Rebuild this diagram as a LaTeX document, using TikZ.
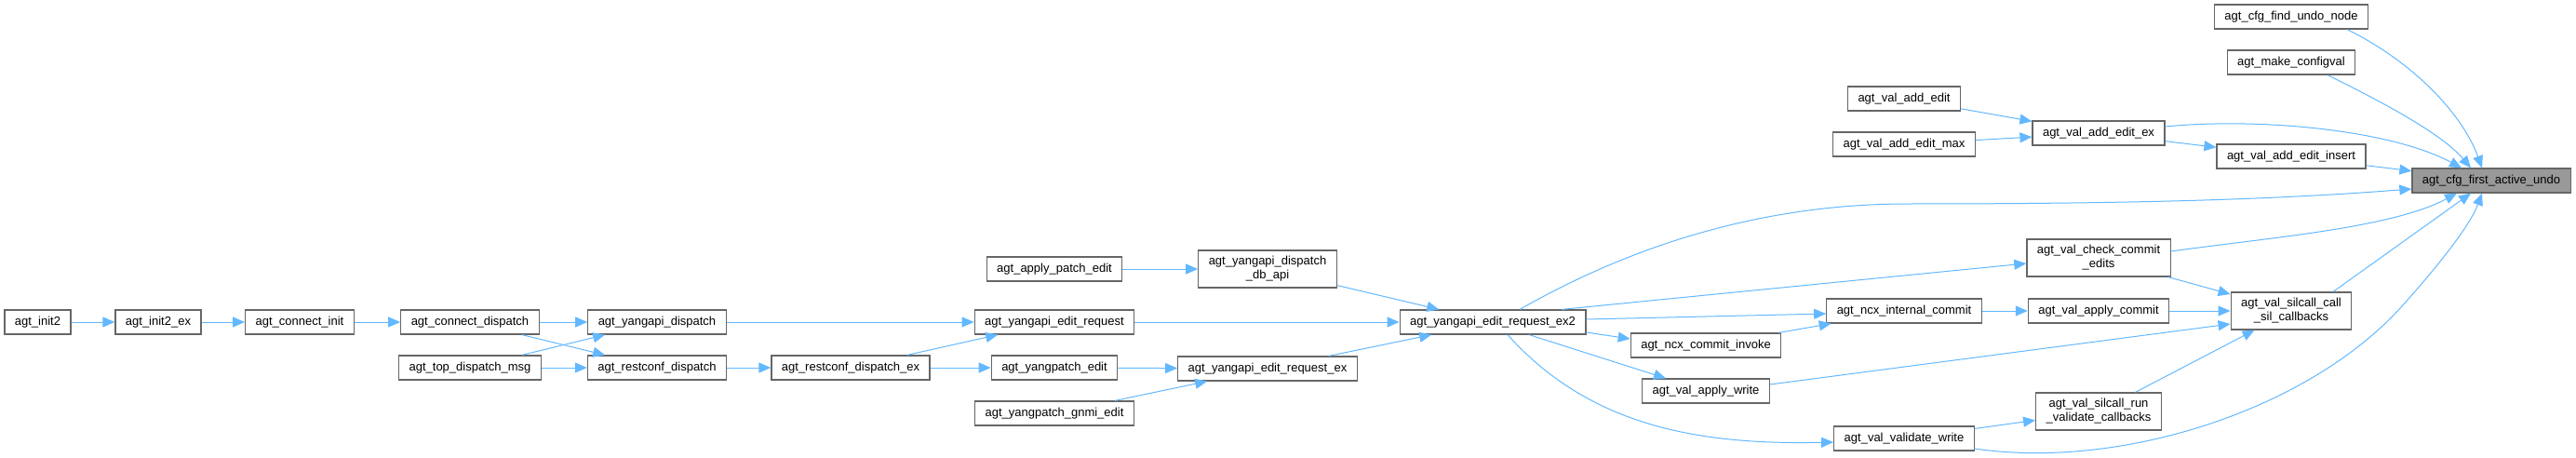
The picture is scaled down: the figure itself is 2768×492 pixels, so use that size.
\documentclass[tikz,border=0pt]{standalone}
\usepackage{fontspec}
\setmainfont{Liberation Sans}
\usetikzlibrary{arrows.meta}
\definecolor{edgeblue}{HTML}{63B8FF}
\definecolor{boxgray}{HTML}{666666}
\definecolor{maingray}{HTML}{999999}

\begin{document}
\begin{tikzpicture}[x=1pt,y=-1pt,
	fn/.style={draw=boxgray,line width=1.2pt,fill=white,font=\fontsize{13}{15}\selectfont,align=center,inner xsep=11pt,inner ysep=6.5pt,minimum height=26pt},
	call/.style={draw=edgeblue,line width=1pt,-{Triangle[length=13pt,width=11pt]}}]
						\useasboundingbox (0,0) rectangle (2768,492);
						\node[fn] (init2) at (40.5,346) {agt\_init2};
						\node[fn] (init2ex) at (170,346) {agt\_init2\_ex};
						\node[fn] (cinit) at (322,346) {agt\_connect\_init};
						\node[fn] (cdisp) at (505,346) {agt\_connect\_dispatch};
						\node[fn] (topmsg) at (505,395) {agt\_top\_dispatch\_msg};
						\node[fn] (ydisp) at (706,346) {agt\_yangapi\_dispatch};
						\node[fn] (rdisp) at (706,395) {agt\_restconf\_dispatch};
						\node[fn] (rdispex) at (914,395) {agt\_restconf\_dispatch\_ex};
						\node[fn] (patch) at (1133,289) {agt\_apply\_patch\_edit};
						\node[fn] (yreq) at (1133,346) {agt\_yangapi\_edit\_request};
						\node[fn] (ypedit) at (1133,395) {agt\_yangpatch\_edit};
						\node[fn] (gnmi) at (1133,444) {agt\_yangpatch\_gnmi\_edit};
						\node[fn] (dbapi) at (1362,289) {agt\_yangapi\_dispatch\\\_db\_api};
						\node[fn] (reqex) at (1362,396) {agt\_yangapi\_edit\_request\_ex};
						\node[fn] (reqex2) at (1604,346) {agt\_yangapi\_edit\_request\_ex2};
						\node[fn] (cinvoke) at (1833,371) {agt\_ncx\_commit\_invoke};
						\node[fn] (awrite) at (1833,420) {agt\_val\_apply\_write};
						\node[fn] (addedit) at (2046,106) {agt\_val\_add\_edit};
						\node[fn] (addmax) at (2046,155) {agt\_val\_add\_edit\_max};
						\node[fn] (icommit) at (2046,334) {agt\_ncx\_internal\_commit};
						\node[fn] (vwrite) at (2046,471) {agt\_val\_validate\_write};
						\node[fn] (addex) at (2255,143) {agt\_val\_add\_edit\_ex};
						\node[fn] (check) at (2255,277) {agt\_val\_check\_commit\\\_edits};
						\node[fn] (acommit) at (2255,334) {agt\_val\_apply\_commit};
						\node[fn] (runval) at (2255,442) {agt\_val\_silcall\_run\\\_validate\_callbacks};
						\node[fn] (findundo) at (2462,18) {agt\_cfg\_find\_undo\_node};
						\node[fn] (mkcfg) at (2462,67) {agt\_make\_configval};
						\node[fn] (insert) at (2462,168) {agt\_val\_add\_edit\_insert};
						\node[fn] (silcall) at (2462,334) {agt\_val\_silcall\_call\\\_sil\_callbacks};
						\node[fn,fill=maingray] (undo) at (2677,194) {agt\_cfg\_first\_active\_undo};
						% left part
						\draw[call] (init2) -- (init2ex);
						\draw[call] (init2ex) -- (cinit);
						\draw[call] (cinit) -- (cdisp);
						\draw[call] (cdisp) -- (ydisp);
						\draw[call] (cdisp) -- (rdisp);
						\draw[call] (topmsg) -- (ydisp);
						\draw[call] (topmsg) -- (rdisp);
						\draw[call] (ydisp) -- (yreq);
						\draw[call] (rdisp) -- (rdispex);
						\draw[call] (rdispex) -- (yreq);
						\draw[call] (rdispex) -- (ypedit);
						\draw[call] (patch) -- (dbapi);
						\draw[call] (dbapi) -- (reqex2);
						\draw[call] (yreq) -- (reqex2);
						\draw[call] (ypedit) -- (reqex);
						\draw[call] (gnmi) -- (reqex);
						\draw[call] (reqex) -- (reqex2);
						% from agt_yangapi_edit_request_ex2
						\draw[call] ([xshift=29pt]reqex2.north) .. controls (1760,260) and (1900,219) .. (2050,219) .. controls (2300,219) and (2450,214) .. ([yshift=-9pt]undo.west);
						\draw[call] ([xshift=74pt]reqex2.north) -- ([yshift=-6pt]check.west);
						\draw[call] ([yshift=3pt]reqex2.east) -- ([yshift=-3pt]icommit.west);
						\draw[call] ([yshift=-11pt]reqex2.east) -- ([yshift=7pt]cinvoke.west);
						\draw[call] ([xshift=39pt]reqex2.south) -- ([xshift=-43pt]awrite.north);
						\draw[call] ([xshift=16pt]reqex2.south) .. controls (1710,460) and (1830,478) .. ([yshift=-4pt]vwrite.west);
						% right part
						\draw[call] (cinvoke) -- (icommit);
						\draw[call] (icommit) -- (acommit);
						\draw[call] (acommit) -- (silcall);
						\draw[call] (check) -- (silcall);
						\draw[call] ([yshift=7pt]awrite.east) -- ([yshift=-14pt]silcall.west);
						\draw[call] (runval) -- (silcall);
						\draw[call] (vwrite) -- (runval);
						\draw[call] (addedit) -- (addex);
						\draw[call] (addmax) -- (addex);
						\draw[call] (addex) -- (insert);
						\draw[call] (insert) -- (undo);
						\draw[call] ([xshift=60pt]findundo.south) .. controls (2590,65) and (2645,120) .. ([xshift=-10pt]undo.north);
						\draw[call] ([xshift=39pt]mkcfg.south) .. controls (2565,112) and (2625,145) .. ([xshift=-22pt]undo.north);
						\draw[call] ([yshift=7pt]addex.east) .. controls (2430,126) and (2570,140) .. ([xshift=-32pt]undo.north);
						\draw[call] ([yshift=7pt]check.east) .. controls (2440,255) and (2570,245) .. ([xshift=-37pt]undo.south);
						\draw[call] ([xshift=45pt]silcall.north) -- ([xshift=-22pt]undo.south);
						\draw[call] ([yshift=-11pt]vwrite.east) .. controls (2280,505) and (2480,440) .. (2580,330) .. controls (2625,280) and (2655,240) .. ([xshift=-10pt]undo.south);
					\end{tikzpicture}
\end{document}
